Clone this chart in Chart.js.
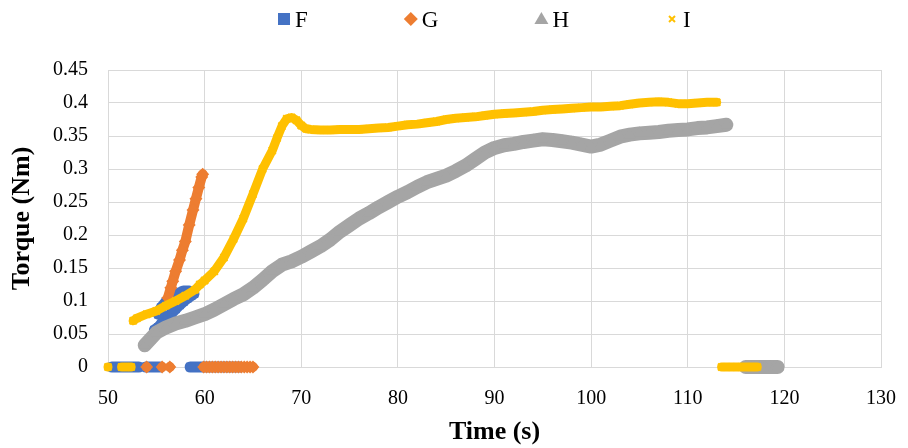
<!DOCTYPE html>
<html>
<head>
<meta charset="utf-8">
<script src="https://cdn.jsdelivr.net/npm/chart.js@4.4.1/dist/chart.umd.min.js"></script>
<style>
  html, body { margin: 0; padding: 0; background: #fff; }
</style>
</head>
<body>
<canvas id="torqueChart" width="908" height="448"></canvas>
<script>
// values; null breaks a run of points
const timeF = [50.4, 50.8, 51.2, 51.6, 52.0, 52.4, 52.8, 53.2, 53.5,
  53.9, 54.3, 54.7, 55.1, 55.4, 55.5,
  54.8, 55.2, 55.5, 55.8, 56.2, 56.6, 57.0, 57.4, 57.8, 58.2, 58.6, 58.9,
  58.4, 57.8, 57.2, 56.6, 56.0, 55.5, 55.2, 58.0,
  58.5, 59.0, 59.5, 60.0, 60.5, 61.0, 61.5, 62.0, 62.5, 63.0, 63.4, 63.7];
const torqueF = [0, 0, 0, 0, 0, 0, 0, 0, null,
  0, 0, 0, 0, 0, null,
  0.056, 0.060, 0.065, 0.070, 0.076, 0.082, 0.088, 0.094, 0.099, 0.104, 0.108, 0.111,
  0.115, 0.115, 0.111, 0.106, 0.099, 0.090, 0.080, null,
  0, 0, 0, 0, 0, 0, 0, 0, 0, 0, 0, 0];

const timeG = [54.0, 54.1, 55.6, 55.7, 56.4, 56.45,
  56.2, 56.5, 56.7, 57.0, 57.4, 57.7, 58.0, 58.4, 58.8, 59.1, 59.4, 59.7, 59.8, 59.85,
  59.9, 60.2, 60.5, 60.8, 61.1, 61.4, 61.7, 62.0, 62.3, 62.6, 62.9, 63.2, 63.5, 63.8, 64.1, 64.4, 64.7, 65.0];
const torqueG = [0, null, 0, null, 0, null,
  0.105, 0.120, 0.130, 0.145, 0.162, 0.177, 0.190, 0.215, 0.238, 0.255, 0.272, 0.288, 0.292, null,
  0, 0, 0, 0, 0, 0, 0, 0, 0, 0, 0, 0, 0, 0, 0, 0, 0, 0];

const timeH = [53.8, 54.3, 55, 56, 57, 58, 59, 60, 61, 62, 63, 64, 65, 66, 67, 68, 69, 70,
  71, 72, 73, 74, 75, 76, 77, 78, 79, 80, 81, 82, 83, 84, 85, 86, 87, 88, 89, 90,
  91, 92, 93, 94, 95, 96, 97, 98, 99, 100, 101, 102, 103, 104, 105, 106, 107, 108,
  109, 110, 111, 112, 113, 114, 114.5,
  116, 116.5, 117, 117.5, 118, 118.5, 119, 119.3];
const torqueH = [0.033, 0.041, 0.052, 0.060, 0.066, 0.070, 0.075, 0.080, 0.087, 0.095, 0.103, 0.110,
  0.120, 0.132, 0.145, 0.155, 0.160, 0.167,
  0.175, 0.183, 0.193, 0.205, 0.215, 0.225, 0.233, 0.242, 0.250, 0.258, 0.265, 0.273,
  0.280, 0.285, 0.290, 0.297, 0.305, 0.315, 0.325, 0.332,
  0.336, 0.338, 0.341, 0.343, 0.345, 0.344, 0.342, 0.340, 0.337, 0.334, 0.337, 0.343,
  0.349, 0.352, 0.354, 0.355, 0.356, 0.358,
  0.359, 0.360, 0.362, 0.363, 0.365, 0.367, null,
  0, 0, 0, 0, 0, 0, 0, 0];

const timeI = [50.0, 50.1, 51.4, 51.8, 52.2, 52.4, 52.5,
  52.6, 53, 54, 55, 56, 57, 58, 59, 59.5, 60, 61, 62, 63, 64, 65, 66, 67, 67.5, 68, 68.5,
  69, 69.5, 70, 70.5, 71, 72, 73, 74, 75, 76, 77, 78, 79, 80, 81, 82, 83, 84, 85, 86,
  87, 88, 89, 90, 91, 92, 93, 94, 95, 96, 97, 98, 99, 100, 101, 102, 103, 104, 105,
  106, 107, 108, 109, 110, 111, 112, 113, 113.2,
  113.5, 114, 114.5, 115, 115.5, 116, 116.5, 117.2];
const torqueI = [0, null, 0, 0, 0, 0, null,
  0.070, 0.074, 0.080, 0.085, 0.093, 0.100, 0.108, 0.117, 0.125, 0.131, 0.145, 0.166,
  0.194, 0.225, 0.262, 0.300, 0.328, 0.347, 0.365, 0.376,
  0.378, 0.374, 0.366, 0.361, 0.360, 0.359, 0.359, 0.360, 0.360, 0.360, 0.361, 0.362,
  0.363, 0.365, 0.367, 0.368, 0.370, 0.372, 0.375, 0.377,
  0.378, 0.379, 0.381, 0.383, 0.384, 0.385, 0.386, 0.387, 0.389, 0.390, 0.391, 0.392,
  0.393, 0.394, 0.394, 0.395, 0.396, 0.398, 0.400,
  0.401, 0.402, 0.401, 0.399, 0.399, 0.400, 0.401, 0.401, null,
  0, 0, 0, 0, 0, 0, 0, 0];

const xTicks = [50, 60, 70, 80, 90, 100, 110, 120, 130];
const yTicks = [0, 0.05, 0.1, 0.15, 0.2, 0.25, 0.3, 0.35, 0.4, 0.45];

function toPoints(xs, ys) {
  return xs.map((x, i) => ({ x: x, y: ys[i] }));
}

// legend drawn by hand so the wide spacing of the original fits in one row
const sideLegend = {
  id: 'sideLegend',
  afterDraw(chart) {
    const ctx = chart.ctx;
    ctx.save();
    ctx.font = '23px "Liberation Serif"';
    ctx.textBaseline = 'middle';
    let cursor = 278;
    chart.data.datasets.forEach((ds) => {
      const cx = cursor + 6, cy = 19;
      ctx.beginPath();
      if (ds.pointStyle === 'rect') {
        ctx.fillStyle = ds.backgroundColor;
        ctx.fillRect(cx - 6, cy - 6, 12, 12);
      } else if (ds.pointStyle === 'rectRot') {
        ctx.fillStyle = ds.backgroundColor;
        ctx.moveTo(cx, cy - 7); ctx.lineTo(cx + 7, cy); ctx.lineTo(cx, cy + 7); ctx.lineTo(cx - 7, cy);
        ctx.closePath(); ctx.fill();
      } else if (ds.pointStyle === 'triangle') {
        ctx.fillStyle = ds.backgroundColor;
        ctx.moveTo(cx, cy - 7); ctx.lineTo(cx + 7, cy + 5); ctx.lineTo(cx - 7, cy + 5);
        ctx.closePath(); ctx.fill();
      } else {
        ctx.strokeStyle = ds.borderColor;
        ctx.lineWidth = 2;
        ctx.moveTo(cx - 3, cy - 3); ctx.lineTo(cx + 3, cy + 3);
        ctx.moveTo(cx + 3, cy - 3); ctx.lineTo(cx - 3, cy + 3);
        ctx.stroke();
      }
      const tx = cursor + 17;
      ctx.fillStyle = '#000';
      ctx.fillText(ds.label, tx, cy + 2);
      cursor = tx + ctx.measureText(ds.label).width + 97;
    });
    ctx.restore();
  }
};

const tickFont = { family: '"Liberation Serif"', size: 20 };
const titleFont = { family: '"Liberation Serif"', size: 26, weight: 'bold' };

new Chart(document.getElementById('torqueChart').getContext('2d'), {
  type: 'scatter',
  data: {
    datasets: [
      {
        label: 'F', data: toPoints(timeF, torqueF), order: 4, clip: false,
        showLine: true, spanGaps: false, borderWidth: 11,
        borderColor: '#4472C4', backgroundColor: '#4472C4',
        pointStyle: 'rect', pointRadius: 6, pointBorderWidth: 0,
        borderCapStyle: 'round', borderJoinStyle: 'round'
      },
      {
        label: 'G', data: toPoints(timeG, torqueG), order: 3, clip: false,
        showLine: true, spanGaps: false, borderWidth: 10,
        borderColor: '#ED7D31', backgroundColor: '#ED7D31',
        pointStyle: 'rectRot', pointRadius: 6.5, pointBorderWidth: 0,
        borderCapStyle: 'round', borderJoinStyle: 'round'
      },
      {
        label: 'H', data: toPoints(timeH, torqueH), order: 2, clip: false,
        showLine: true, spanGaps: false, borderWidth: 14,
        borderColor: '#A5A5A5', backgroundColor: '#A5A5A5',
        pointStyle: 'triangle', pointRadius: 7, pointBorderWidth: 0,
        borderCapStyle: 'round', borderJoinStyle: 'round'
      },
      {
        label: 'I', data: toPoints(timeI, torqueI), order: 1, clip: false,
        showLine: true, spanGaps: false, borderWidth: 9,
        borderColor: '#FFC000', backgroundColor: '#FFC000',
        pointStyle: 'crossRot', pointRadius: 5, pointBorderWidth: 2,
        borderCapStyle: 'round', borderJoinStyle: 'round'
      }
    ]
  },
  options: {
    responsive: false,
    animation: false,
    devicePixelRatio: 1,
    layout: { autoPadding: false, padding: { top: 70, right: 27, left: 0, bottom: 0 } },
    plugins: {
      legend: { display: false },
      tooltip: { enabled: false }
    },
    scales: {
      x: {
        type: 'linear', min: 50, max: 130,
        afterBuildTicks: (scale) => { scale.ticks = xTicks.map(v => ({ value: v })); },
        afterFit: (scale) => {
          scale.height = 81;
          scale.paddingLeft = 0;
          scale.paddingRight = 0;
        },
        ticks: { font: tickFont, color: '#000', padding: 20 },
        grid: { color: '#d9d9d9', drawTicks: false },
        border: { color: '#d9d9d9' },
        title: { display: true, text: 'Time (s)', font: titleFont, color: '#000', padding: { top: 2, bottom: 0 } }
      },
      y: {
        type: 'linear', min: 0, max: 0.45,
        afterBuildTicks: (scale) => { scale.ticks = yTicks.map(v => ({ value: v })); },
        afterFit: (scale) => { scale.width = 108; },
        ticks: { font: tickFont, color: '#000', padding: 20, callback: (v) => String(+v.toFixed(2)) },
        grid: { color: '#d9d9d9', drawTicks: false },
        border: { color: '#d9d9d9' },
        title: { display: true, text: 'Torque (Nm)', font: titleFont, color: '#000', padding: { top: 7, bottom: 0 } }
      }
    }
  },
  plugins: [sideLegend]
});
</script>
</body>
</html>
